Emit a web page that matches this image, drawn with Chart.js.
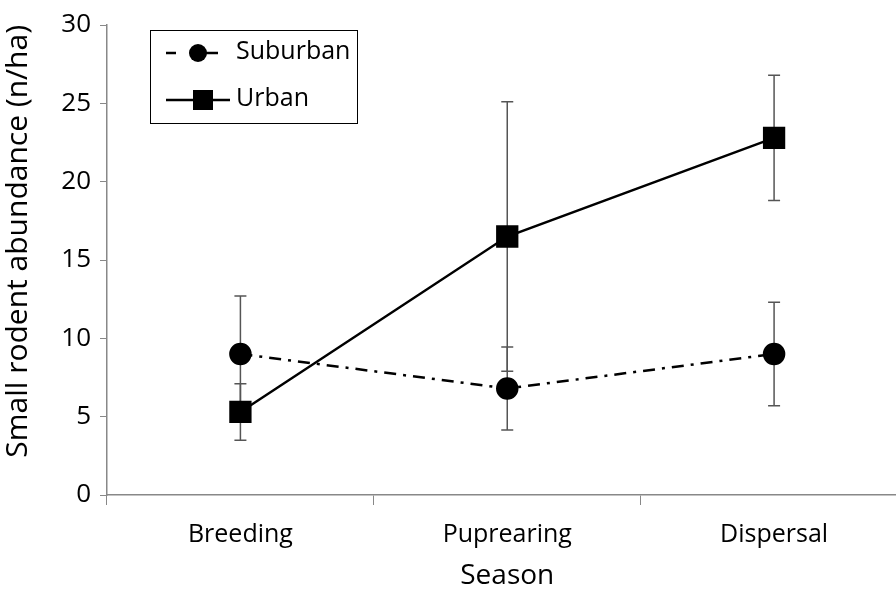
<!DOCTYPE html>
<html>
<head>
<meta charset="utf-8">
<script src="https://cdn.jsdelivr.net/npm/chart.js@4/dist/chart.umd.min.js"></script>
<style>
  html, body { margin: 0; padding: 0; background: #fff; overflow: hidden; }
  #chart { display: block; }
</style>
</head>
<body>
<canvas id="chart" width="924" height="590"></canvas>
<script>
// Data
const seasons = ['Breeding', 'Puprearing', 'Dispersal'];
const suburban = [9.0, 6.8, 9.0];
const suburbanErr = [3.7, 2.65, 3.3];
const urban = [5.3, 16.5, 22.8];
const urbanErr = [1.8, 8.6, 4.0];
const yTicks = [0, 5, 10, 15, 20, 25, 30];

const FONT = '"Open Sans", sans-serif';
const errors = [suburbanErr, urbanErr];

// error bars, drawn under the markers
const errorBars = {
    id: 'errorBars',
    beforeDatasetsDraw(chart) {
        const ctx = chart.ctx;
        const y = chart.scales.y;
        ctx.save();
        ctx.strokeStyle = '#555';
        ctx.lineWidth = 1.5;
        chart.data.datasets.forEach((ds, i) => {
            const meta = chart.getDatasetMeta(i);
            meta.data.forEach((pt, j) => {
                const v = ds.data[j], e = errors[i][j];
                const top = y.getPixelForValue(v + e);
                const bot = y.getPixelForValue(v - e);
                ctx.beginPath();
                ctx.moveTo(pt.x, top); ctx.lineTo(pt.x, bot);
                ctx.moveTo(pt.x - 6, top); ctx.lineTo(pt.x + 6, top);
                ctx.moveTo(pt.x - 6, bot); ctx.lineTo(pt.x + 6, bot);
                ctx.stroke();
            });
        });
        ctx.restore();
    }
};

// boxed legend in the top left of the plot
const boxLegend = {
    id: 'boxLegend',
    afterDraw(chart) {
        const ctx = chart.ctx;
        const a = chart.chartArea;
        const x0 = a.left + 43, y0 = a.top + 5;
        ctx.save();
        ctx.strokeStyle = '#000';
        ctx.lineWidth = 1;
        ctx.strokeRect(x0 + 0.5, y0 + 0.5, 207, 93);

        ctx.lineWidth = 2.5;
        // suburban sample
        ctx.beginPath();
        ctx.moveTo(x0 + 16, y0 + 23); ctx.lineTo(x0 + 26, y0 + 23);
        ctx.moveTo(x0 + 40, y0 + 23); ctx.lineTo(x0 + 68, y0 + 23);
        ctx.stroke();
        ctx.beginPath();
        ctx.arc(x0 + 48, y0 + 23, 9, 0, Math.PI * 2);
        ctx.fillStyle = '#000';
        ctx.fill();
        // urban sample
        ctx.beginPath();
        ctx.moveTo(x0 + 16, y0 + 70); ctx.lineTo(x0 + 80, y0 + 70);
        ctx.stroke();
        ctx.fillRect(x0 + 43, y0 + 60, 20, 20);

        ctx.font = '25px ' + FONT;
        ctx.textBaseline = 'middle';
        ctx.fillText('Suburban', x0 + 86, y0 + 22);
        ctx.fillText('Urban', x0 + 86, y0 + 69);
        ctx.restore();
    }
};

new Chart(document.getElementById('chart'), {
    type: 'line',
    data: {
        labels: seasons,
        datasets: [{
            label: 'Suburban',
            data: suburban,
            borderColor: '#000',
            backgroundColor: '#000',
            borderWidth: 2.5,
            borderDash: [12, 7, 3, 7],
            pointStyle: 'circle',
            pointRadius: 10,
            pointHoverRadius: 10,
            tension: 0
        }, {
            label: 'Urban',
            data: urban,
            borderColor: '#000',
            backgroundColor: '#000',
            borderWidth: 2.5,
            pointStyle: 'rect',
            pointRadius: 14,
            pointHoverRadius: 14,
            tension: 0
        }]
    },
    options: {
        responsive: false,
        animation: false,
        layout: { padding: { top: 25, left: 0, right: 0, bottom: 0 } },
        plugins: {
            legend: { display: false },
            tooltip: { enabled: false }
        },
        scales: {
            x: {
                offset: true,
                grid: {
                    offset: true,
                    drawOnChartArea: false,
                    drawTicks: true,
                    tickLength: 10,
                    color: '#888'
                },
                border: { color: '#888', width: 1.5 },
                ticks: {
                    color: '#000',
                    font: { family: FONT, size: 25 },
                    padding: 15,
                    maxRotation: 0
                },
                title: {
                    display: true,
                    text: 'Season',
                    color: '#000',
                    font: { family: FONT, size: 28, lineHeight: 1 },
                    padding: { top: 0, bottom: 0 }
                },
                afterFit(scale) { scale.height = 95; }
            },
            y: {
                min: 0,
                max: 30,
                afterBuildTicks(scale) {
                    scale.ticks = yTicks.map(v => ({ value: v }));
                },
                grid: {
                    drawOnChartArea: false,
                    drawTicks: true,
                    tickLength: 7,
                    color: '#888'
                },
                border: { color: '#888', width: 1.5 },
                ticks: {
                    color: '#000',
                    font: { family: FONT, size: 26 },
                    padding: 9
                },
                title: {
                    display: true,
                    text: 'Small rodent abundance (n/ha)',
                    align: 'end',
                    color: '#000',
                    font: { family: FONT, size: 30 },
                    padding: { top: 0, bottom: 0 }
                },
                afterFit(scale) { scale.width = 107; }
            }
        }
    },
    plugins: [errorBars, boxLegend]
});
</script>
</body>
</html>
